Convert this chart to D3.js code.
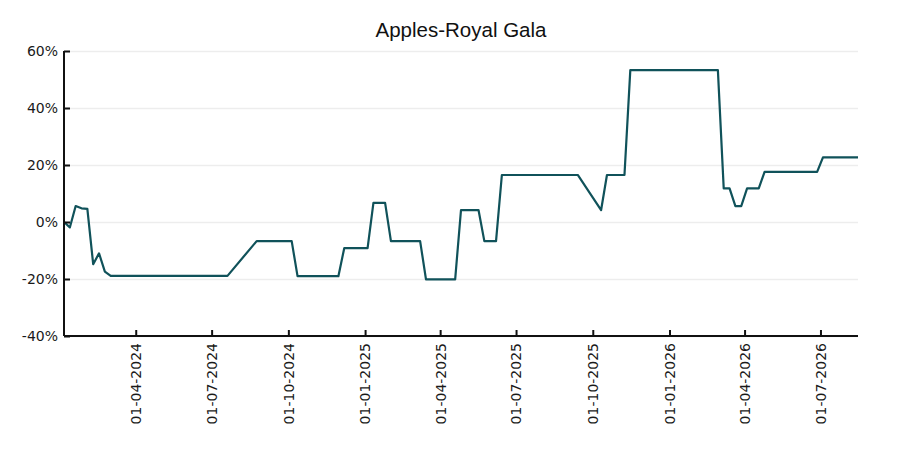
<!DOCTYPE html>
<html>
<head>
<meta charset="utf-8">
<script src="https://cdn.jsdelivr.net/npm/d3@7"></script>
<style>
    body { margin: 0; background: #fff; }
    svg { display: block; }
    .grid line { stroke: #ededed; stroke-width: 1.5; }
    .grid .domain { display: none; }
    .axis .domain { stroke: #111; stroke-width: 2; }
    .axis .tick line { stroke: #111; stroke-width: 2; }
    .axis text { font-family: "DejaVu Sans", sans-serif; font-size: 14px; fill: #1a1a1a; }
</style>
</head>
<body>
<svg id="chart" width="900" height="450"></svg>
<script>
// Weekly price change, Apples-Royal Gala
const dates = [
    '2024-01-06', '2024-01-13', '2024-01-20', '2024-01-27', '2024-02-03',
    '2024-02-10', '2024-02-17', '2024-02-24', '2024-03-02', '2024-07-20',
    '2024-08-24', '2024-10-05', '2024-10-12', '2024-11-30', '2024-12-07',
    '2025-01-04', '2025-01-11', '2025-01-25', '2025-02-01', '2025-03-08',
    '2025-03-15', '2025-04-19', '2025-04-26', '2025-05-17', '2025-05-24',
    '2025-06-07', '2025-06-14', '2025-09-13', '2025-10-11', '2025-10-18',
    '2025-11-08', '2025-11-15', '2026-02-28', '2026-03-07', '2026-03-14',
    '2026-03-21', '2026-03-28', '2026-04-04', '2026-04-18', '2026-04-25',
    '2026-06-27', '2026-07-04', '2026-08-15'
];
const changes = [
    0, -1.9, 5.6, 4.8, 4.6,
    -14.8, -11, -17.4, -18.9, -18.9,
    -6.7, -6.7, -19, -19, -9.2,
    -9.2, 6.7, 6.7, -6.7, -6.7,
    -20.1, -20.1, 4.2, 4.2, -6.7,
    -6.7, 16.5, 16.5, 4.2, 16.5,
    16.5, 53.3, 53.3, 11.8, 11.8,
    5.6, 5.6, 11.8, 11.8, 17.6,
    17.6, 22.7, 22.7
];
const yTicks = [-40, -20, 0, 20, 40, 60];
const title = 'Apples-Royal Gala';

const width = 900;
const height = 450;
const margin = { top: 51, right: 42, bottom: 114, left: 64 };

const parseDate = d3.timeParse('%Y-%m-%d');
const data = dates.map((d, i) => ({ date: parseDate(d), value: changes[i] }));

const svg = d3.select('#chart');

const x = d3.scaleTime()
    .domain(d3.extent(data, d => d.date))
    .range([margin.left, width - margin.right]);

const y = d3.scaleLinear()
    .domain([d3.min(yTicks), d3.max(yTicks)])
    .range([height - margin.bottom, margin.top]);

// Horizontal grid
svg.append('g')
    .attr('class', 'grid')
    .attr('transform', `translate(${margin.left},0)`)
    .call(d3.axisLeft(y).tickValues(yTicks).tickSize(-(width - margin.left - margin.right)).tickFormat(''));

// Line
const line = d3.line()
    .x(d => x(d.date))
    .y(d => y(d.value));

svg.append('path')
    .datum(data)
    .attr('d', line)
    .attr('fill', 'none')
    .attr('stroke', '#10525a')
    .attr('stroke-width', 2.2)
    .attr('stroke-linejoin', 'round');

// Y axis, ticks pointing inward
const yAxis = svg.append('g')
    .attr('class', 'axis')
    .attr('transform', `translate(${margin.left},0)`)
    .call(d3.axisLeft(y)
        .tickValues(yTicks)
        .tickSize(-6)
        .tickPadding(6)
        .tickFormat(d => d + '%'));
yAxis.select('.domain').attr('d', `M0,${y(60)}V${y(-40)}`);

// X axis, quarterly ticks, rotated labels
const xAxis = svg.append('g')
    .attr('class', 'axis')
    .attr('transform', `translate(0,${height - margin.bottom})`)
    .call(d3.axisBottom(x)
        .ticks(d3.timeMonth.every(3))
        .tickSize(-6)
        .tickFormat(d3.timeFormat('%d-%m-%Y')));
xAxis.select('.domain').attr('d', `M${margin.left},0H${width - margin.right}`);
xAxis.selectAll('text')
    .attr('transform', 'rotate(-90)')
    .attr('text-anchor', 'end')
    .attr('x', -7)
    .attr('y', 0)
    .attr('dy', '0.35em');

// Title
svg.append('text')
    .attr('x', (margin.left + width - margin.right) / 2)
    .attr('y', 37)
    .attr('text-anchor', 'middle')
    .attr('font-family', '"Liberation Sans", Arial, sans-serif')
    .attr('font-size', '20.5px')
    .attr('fill', '#111')
    .text(title);
</script>
</body>
</html>
